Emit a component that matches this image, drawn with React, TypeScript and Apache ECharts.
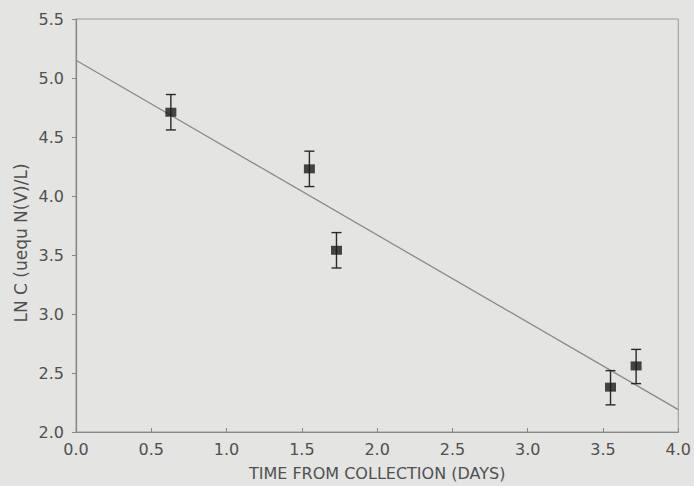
import React, { useEffect, useRef } from "react";
import * as echarts from "echarts";

const days = [0.63, 1.55, 1.73, 3.55, 3.72];
const lnC = [4.71, 4.23, 3.54, 2.38, 2.56];
const errLow = [4.56, 4.08, 3.39, 2.23, 2.41];
const errHigh = [4.86, 4.38, 3.69, 2.52, 2.70];
const fitX = [0, 4.0];
const fitY = [5.15, 2.19];
const xTicks = [0, 0.5, 1.0, 1.5, 2.0, 2.5, 3.0, 3.5, 4.0];
const yTicks = [2.0, 2.5, 3.0, 3.5, 4.0, 4.5, 5.0, 5.5];

const FONT = "DejaVu Sans";
const TXT = "#505050";

export default function App() {
  const ref = useRef<HTMLDivElement>(null);
  useEffect(() => {
    const chart = echarts.init(ref.current!, null, { renderer: "svg" });
    chart.setOption({
      animation: false,
      backgroundColor: "#e4e4e2",
      grid: {
        left: 76,
        right: 11,
        top: 19,
        bottom: 50,
        show: true,
        borderColor: "#999",
        borderWidth: 1,
        backgroundColor: "transparent",
      },
      xAxis: {
        type: "value",
        min: 0,
        max: 4,
        interval: 0.5,
        name: "TIME FROM COLLECTION (DAYS)",
        nameLocation: "middle",
        nameGap: 33,
        nameTextStyle: { fontFamily: FONT, fontSize: 16, color: TXT },
        axisLine: { lineStyle: { color: "#888", width: 1.2 } },
        axisTick: { inside: true, length: 4, lineStyle: { color: "#888" } },
        axisLabel: {
          fontFamily: FONT,
          fontSize: 16,
          color: TXT,
          margin: 9,
          formatter: (v: number) => v.toFixed(1),
          customValues: xTicks,
        },
        splitLine: { show: false },
      },
      yAxis: {
        type: "value",
        min: 2,
        max: 5.5,
        interval: 0.5,
        axisLine: { show: true, lineStyle: { color: "#888", width: 1.2 } },
        axisTick: { show: true, length: 4, lineStyle: { color: "#888" } },
        axisLabel: {
          fontFamily: FONT,
          fontSize: 16,
          color: TXT,
          margin: 12,
          formatter: (v: number) => v.toFixed(1),
          customValues: yTicks,
        },
        splitLine: { show: false },
      },
      graphic: [
        {
          type: "text",
          x: 21,
          y: 243,
          rotation: Math.PI / 2,
          style: {
            text: "LN C (uequ N(V)/L)",
            fontFamily: FONT,
            fontSize: 17,
            fill: TXT,
            align: "center",
            verticalAlign: "middle",
          },
        },
      ],
      series: [
        {
          type: "line",
          data: fitX.map((x, i) => [x, fitY[i]]),
          showSymbol: false,
          lineStyle: { color: "#8a8a8a", width: 1.3 },
          z: 1,
        },
        {
          type: "custom",
          data: days.map((x, i) => [x, errLow[i], errHigh[i]]),
          renderItem: (params: any, api: any) => {
            const lo = api.coord([api.value(0), api.value(1)]);
            const hi = api.coord([api.value(0), api.value(2)]);
            const cap = 5;
            const st = { stroke: "#2a2a2a", lineWidth: 1.4 };
            return {
              type: "group",
              children: [
                { type: "line", shape: { x1: lo[0], y1: lo[1], x2: hi[0], y2: hi[1] }, style: st },
                { type: "line", shape: { x1: lo[0] - cap, y1: lo[1], x2: lo[0] + cap, y2: lo[1] }, style: st },
                { type: "line", shape: { x1: hi[0] - cap, y1: hi[1], x2: hi[0] + cap, y2: hi[1] }, style: st },
              ],
            };
          },
          z: 2,
        },
        {
          type: "scatter",
          data: days.map((x, i) => [x, lnC[i]]),
          symbol: "rect",
          symbolSize: [11, 9],
          itemStyle: { color: "#1a1a1a" },
          z: 3,
        },
      ],
    });
    return () => chart.dispose();
  }, []);
  return (
    <div
      ref={ref}
      style={{ position: "fixed", left: 0, top: 0, width: 694, height: 486 }}
    />
  );
}
